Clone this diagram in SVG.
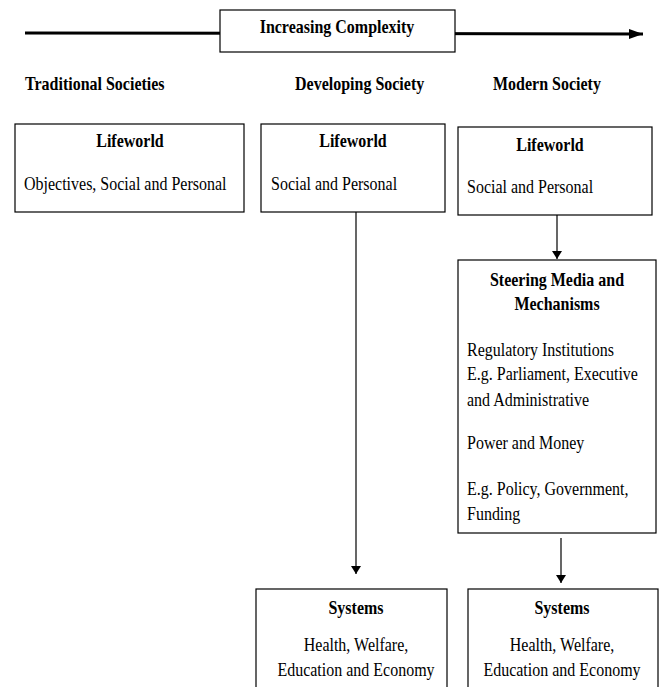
<svg xmlns="http://www.w3.org/2000/svg" width="663" height="687" viewBox="0 0 663 687">
<style>
text{font-family:"Liberation Serif","Times New Roman",serif;font-size:19.5px;fill:#000}
.b{font-weight:bold}
.c{text-anchor:middle}
.box{fill:#fff;stroke:#000;stroke-width:1.2}
.con{stroke:#000;stroke-width:1.2;fill:none}
</style>
<defs>
<marker id="ah" markerWidth="8" markerHeight="10" refX="8" refY="5" orient="auto" markerUnits="userSpaceOnUse">
<path d="M0,0 L8,5 L0,10 Z" fill="#000"/>
</marker>
<marker id="ahBig" markerWidth="14" markerHeight="10" refX="14" refY="5" orient="auto" markerUnits="userSpaceOnUse">
<path d="M0,0 L14,5 L0,10 Z" fill="#000"/>
</marker>
</defs>
<g id="connectors">
<line x1="25" y1="33" x2="643" y2="34" stroke="#000" stroke-width="3" marker-end="url(#ahBig)"/>
<line class="con" x1="356" y1="212" x2="356" y2="574" marker-end="url(#ah)"/>
<line class="con" x1="557" y1="215" x2="557" y2="259" marker-end="url(#ah)"/>
<line class="con" x1="561" y1="538" x2="561" y2="583" marker-end="url(#ah)"/>
</g>
<g id="complexity">
<rect class="box" x="220" y="10" width="235" height="42"/>
<text class="b c" transform="translate(337,33) scale(0.82,1)">Increasing Complexity</text>
</g>
<g id="labels">
<text class="b" transform="translate(25,90) scale(0.82,1)">Traditional Societies</text>
<text class="b" transform="translate(295,90) scale(0.82,1)">Developing Society</text>
<text class="b" transform="translate(493,90) scale(0.82,1)">Modern Society</text>
</g>
<g id="trad-lifeworld">
<rect class="box" x="15" y="124" width="229" height="88"/>
<text class="b c" transform="translate(130,147) scale(0.82,1)">Lifeworld</text>
<text transform="translate(24,190) scale(0.82,1)">Objectives, Social and Personal</text>
</g>
<g id="dev-lifeworld">
<rect class="box" x="261" y="124" width="184" height="88"/>
<text class="b c" transform="translate(353,147) scale(0.82,1)">Lifeworld</text>
<text transform="translate(271,190) scale(0.82,1)">Social and Personal</text>
</g>
<g id="mod-lifeworld">
<rect class="box" x="458" y="127" width="194" height="88"/>
<text class="b c" transform="translate(550,151) scale(0.82,1)">Lifeworld</text>
<text transform="translate(467,193) scale(0.82,1)">Social and Personal</text>
</g>
<g id="steering">
<rect class="box" x="458" y="260" width="198" height="273"/>
<text class="b c" transform="translate(557,286) scale(0.82,1)">Steering Media and</text>
<text class="b c" transform="translate(557,310) scale(0.82,1)">Mechanisms</text>
<text transform="translate(467,356) scale(0.82,1)">Regulatory Institutions</text>
<text transform="translate(467,380) scale(0.82,1)">E.g. Parliament, Executive</text>
<text transform="translate(467,406) scale(0.82,1)">and Administrative</text>
<text transform="translate(467,449) scale(0.82,1)">Power and Money</text>
<text transform="translate(467,495) scale(0.82,1)">E.g. Policy, Government,</text>
<text transform="translate(467,520) scale(0.82,1)">Funding</text>
</g>
<g id="dev-systems">
<rect class="box" x="256" y="589" width="191" height="110"/>
<text class="b c" transform="translate(356,614) scale(0.82,1)">Systems</text>
<text class="c" transform="translate(356,651) scale(0.82,1)">Health, Welfare,</text>
<text class="c" transform="translate(356,676) scale(0.82,1)">Education and Economy</text>
</g>
<g id="mod-systems">
<rect class="box" x="468" y="589" width="190" height="110"/>
<text class="b c" transform="translate(562,614) scale(0.82,1)">Systems</text>
<text class="c" transform="translate(562,651) scale(0.82,1)">Health, Welfare,</text>
<text class="c" transform="translate(562,676) scale(0.82,1)">Education and Economy</text>
</g>
</svg>
